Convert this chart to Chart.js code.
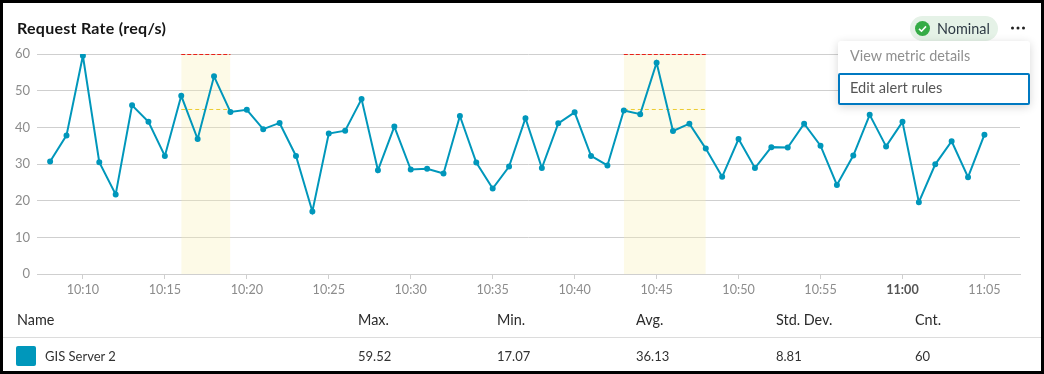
<!DOCTYPE html>
<html>
<head>
<meta charset="utf-8">
<script src="https://cdn.jsdelivr.net/npm/chart.js@4"></script>
<style>
html,body{margin:0;padding:0;width:1044px;height:374px;overflow:hidden;background:#000;}
body{font-family:Lato,"Open Sans",sans-serif;color:#1f2937;}
#frame{position:absolute;left:3px;top:3px;width:1038px;height:368px;background:#fff;}
#wrap{position:absolute;left:0;top:0;width:1044px;height:374px;}
.t{position:absolute;white-space:nowrap;line-height:18px;}
#title{left:17px;top:19px;font-size:16px;font-weight:700;color:#151515;letter-spacing:.26px;}
#pill{position:absolute;left:910px;top:16px;width:88px;height:25px;border-radius:12.5px;background:#e5f2e7;}
#nominal{left:937px;top:20px;font-size:14.4px;color:#2f3a45;}
#icon{position:absolute;left:915px;top:21px;}
#dots{position:absolute;left:1010px;top:25px;}
#menu{position:absolute;left:838px;top:41px;width:192px;height:64px;background:#fff;border-radius:3px;box-shadow:0 2px 10px rgba(0,0,0,.16);}
#edit{position:absolute;left:0;top:32px;width:188px;height:28px;border:2px solid #0079c1;border-radius:2px;}
.hline{position:absolute;left:3px;top:337px;width:1038px;height:1px;background:#dcdcdc;}
.head{top:311px;font-size:14.4px;color:#2b2b2b;}
.cell{top:347px;font-size:13px;color:#323232;}
#swatch{position:absolute;left:16px;top:346px;width:20px;height:20px;border-radius:2px;background:#0097bb;}
</style>
</head>
<body>
<div id="frame"></div>
<div id="wrap"><canvas id="c" width="1044" height="374"></canvas></div>
<div class="t" id="title">Request Rate (req/s)</div>
<div id="pill"></div>
<svg id="icon" width="15" height="15" viewBox="0 0 15 15"><circle cx="7.5" cy="7.5" r="7.5" fill="#35ac46"/><path d="M4 7.8l2.5 2.4L11 5.4" fill="none" stroke="#fff" stroke-width="1.6"/></svg>
<div class="t" id="nominal">Nominal</div>
<svg id="dots" width="16" height="6" viewBox="0 0 16 6"><circle cx="2.5" cy="3" r="1.5" fill="#222"/><circle cx="8" cy="3" r="1.5" fill="#222"/><circle cx="13.5" cy="3" r="1.5" fill="#222"/></svg>
<div id="menu"><div id="edit"></div></div>
<div class="t" style="left:850px;top:47px;font-size:14.4px;color:#8f8f8f;">View metric details</div>
<div class="t" style="left:850px;top:79px;font-size:14.6px;color:#555;">Edit alert rules</div>
<div class="hline"></div>
<div id="table"></div>
<div id="swatch"></div>
<script>
const minutes = [8,9,10,11,12,13,14,15,16,17,18,19,20,21,22,23,24,25,26,27,28,29,30,31,32,33,34,35,36,37,38,39,40,41,42,43,44,45,46,47,48,49,50,51,52,53,54,55,56,57,58,59,60,61,62,63,64,65];
const requestRate = [30.7,37.8,59.52,30.5,21.7,46,41.5,32.2,48.6,36.8,53.9,44.2,44.8,39.5,41.2,32.2,17.07,38.3,39.1,47.7,28.3,40.2,28.5,28.7,27.4,43.1,30.4,23.3,29.3,42.5,28.9,41.1,44.1,32.2,29.6,44.6,43.6,57.6,39,41,34.2,26.5,36.8,28.9,34.6,34.5,41,35,24.3,32.3,43.4,34.8,41.5,19.6,29.9,36.2,26.4,38];
const tickMinutes = [10,15,20,25,30,35,40,45,50,55,60,65];
const tickLabels = ["10:10","10:15","10:20","10:25","10:30","10:35","10:40","10:45","10:50","10:55","11:00","11:05"];
const alertWindows = [[16,19],[43,48]];
const criticalLevel = 60;
const warningLevel = 44.87;
const seriesName = "GIS Server 2";
const columns = ["Name","Max.","Min.","Avg.","Std. Dev.","Cnt."];
const rowValues = [seriesName,"59.52","17.07","36.13","8.81","60"];
const columnX = [17,358,497,636,776,915];

const table = document.getElementById('table');
columns.forEach((c,i)=>{
  const h=document.createElement('div');h.className='t head';h.style.left=columnX[i]+'px';h.textContent=c;table.appendChild(h);
  const d=document.createElement('div');d.className='t cell';d.style.left=(i===0?45:columnX[i])+'px';d.textContent=rowValues[i];table.appendChild(d);
});

const blue='#0097bb', grid='#cfcfcf';
const bandSets=[];
alertWindows.forEach(w=>{
  bandSets.push({data:[{x:w[0],y:warningLevel},{x:w[1],y:warningLevel}],borderColor:'#eccb2f',borderWidth:1,borderDash:[4,3],pointRadius:0,fill:false,order:2});
  bandSets.push({data:[{x:w[0],y:criticalLevel},{x:w[1],y:criticalLevel}],borderColor:'#e8201a',borderWidth:2,borderDash:[4,2],pointRadius:0,fill:'origin',clip:0,backgroundColor:'rgba(248,240,180,0.32)',order:3});
});
new Chart(document.getElementById('c'),{
  type:'line',
  data:{datasets:[
    {label:seriesName,data:minutes.map((m,i)=>({x:m,y:requestRate[i]})),borderColor:blue,backgroundColor:blue,borderWidth:2,pointRadius:2,pointHoverRadius:2,tension:0,fill:false,order:1},
    ...bandSets
  ]},
  options:{
    responsive:false,animation:false,
    layout:{padding:{left:0,top:54,right:24,bottom:64}},
    plugins:{legend:{display:false},tooltip:{enabled:false}},
    scales:{
      x:{type:'linear',min:7.2,max:67.17,
        afterBuildTicks:s=>{s.ticks=tickMinutes.map(v=>({value:v}));},
        afterFit:s=>{s.height=36;},
        border:{color:grid},
        grid:{drawOnChartArea:false,drawTicks:true,tickLength:5,color:grid},
        ticks:{autoSkip:false,maxRotation:0,padding:3,
          font:c=>({family:'Lato',size:12.6,weight:c.tick&&c.tick.value===60?'700':'400'}),
          color:c=>c.tick&&c.tick.value===60?'#555':'#8c8c8c',
          callback:v=>tickLabels[tickMinutes.indexOf(v)]}
      },
      y:{min:0,max:60,
        afterFit:s=>{s.width=37;},
        border:{display:false},
        grid:{color:grid,lineWidth:1,drawTicks:false},
        ticks:{stepSize:10,padding:7,color:'#8c8c8c',font:{family:'Lato',size:13}}
      }
    }
  }
});
</script>
</body>
</html>
